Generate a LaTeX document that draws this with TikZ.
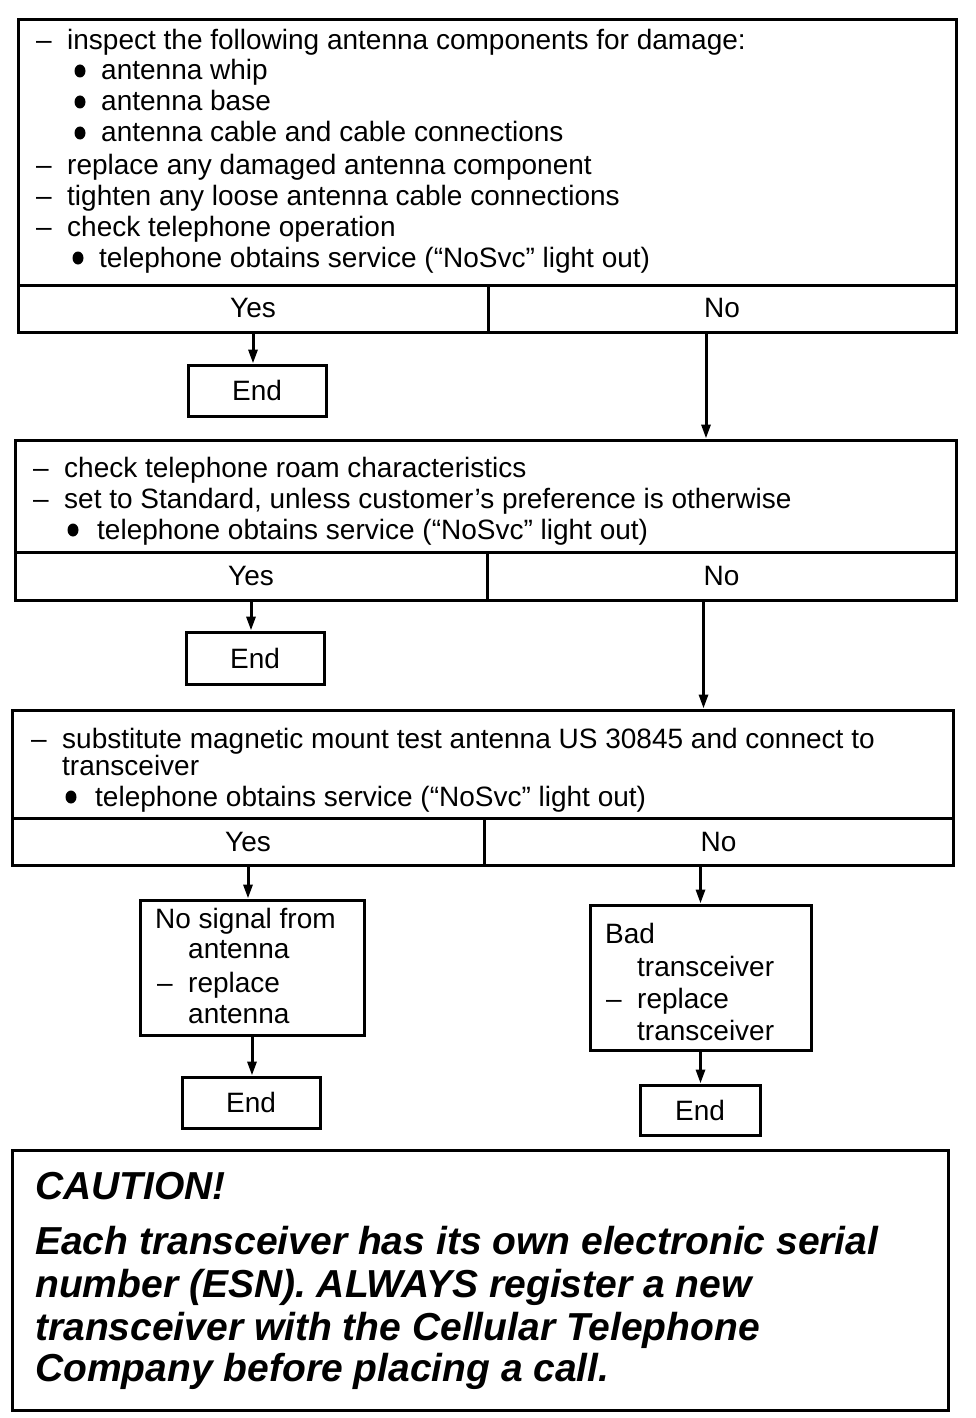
\documentclass[tikz,border=0pt]{standalone}
\usepackage{fontspec}
\setmainfont{Liberation Sans}
\usetikzlibrary{arrows.meta}
\tikzset{
  box/.style={draw, line width=3pt, inner sep=0pt},
  txt/.style={anchor=base west, inner sep=0pt, font=\fontsize{28}{31}\selectfont},
  ctxt/.style={inner sep=0pt, font=\fontsize{28}{31}\selectfont},
  arr/.style={line width=3pt, -{Triangle[length=14pt,width=9pt]}},
  caut/.style={anchor=base west, inner sep=0pt, font=\fontsize{39}{43}\selectfont\bfseries\itshape},
  blt/.style={fill=black},
}
\begin{document}
\begin{tikzpicture}[x=1pt,y=-1pt]
\fill[white] (0,0) rectangle (976,1418);
\useasboundingbox (0,0) rectangle (976,1418);

% ---------- block 1 ----------
\node[box, minimum width=938pt, minimum height=265pt] (q1) at (487,152.5) {};
\node[box, ctxt, minimum width=470pt, minimum height=47pt] (yes1) at (253,308.5) {Yes};
\node[box, ctxt, minimum width=468pt, minimum height=47pt] (no1) at (722,308.5) {No};
\node[box, ctxt, minimum width=138pt, minimum height=51pt] (end1) at (257,390.5) {End};

\node[txt] (d1a) at (36,50) {–};
\node[txt] (t1a) at (67,50) {inspect the following antenna components for damage:};
\fill[blt] (80,71) ellipse [x radius=5.5pt, y radius=6.5pt];
\node[txt] (t1b) at (101,80) {antenna whip};
\fill[blt] (80,102) ellipse [x radius=5.5pt, y radius=6.5pt];
\node[txt] (t1c) at (101,111) {antenna base};
\fill[blt] (80,133) ellipse [x radius=5.5pt, y radius=6.5pt];
\node[txt] (t1d) at (101,142) {antenna cable and cable connections};
\node[txt] (d1e) at (36,174) {–};
\node[txt] (t1e) at (67,174) {replace any damaged antenna component};
\node[txt] (d1f) at (36,205) {–};
\node[txt] (t1f) at (67,205) {tighten any loose antenna cable connections};
\node[txt] (d1g) at (36,236) {–};
\node[txt] (t1g) at (67,236) {check telephone operation};
\fill[blt] (78,258) ellipse [x radius=5.5pt, y radius=6.5pt];
\node[txt] (t1h) at (99,267) {telephone obtains service (“NoSvc” light out)};

% ---------- block 2 ----------
\node[box, minimum width=941pt, minimum height=112pt] (q2) at (485.5,496) {};
\node[box, ctxt, minimum width=472pt, minimum height=48pt] (yes2) at (251,576) {Yes};
\node[box, ctxt, minimum width=469pt, minimum height=48pt] (no2) at (721.5,576) {No};
\node[box, ctxt, minimum width=138pt, minimum height=52pt] (end2) at (255,658) {End};

\node[txt] (d2a) at (33,477) {–};
\node[txt] (t2a) at (64,477) {check telephone roam characteristics};
\node[txt] (d2b) at (33,508) {–};
\node[txt] (t2b) at (64,508) {set to Standard, unless customer’s preference is otherwise};
\fill[blt] (73,530) ellipse [x radius=5.5pt, y radius=6.5pt];
\node[txt] (t2c) at (97,539) {telephone obtains service (“NoSvc” light out)};

% ---------- block 3 ----------
\node[box, minimum width=941pt, minimum height=108pt] (q3) at (482.5,764) {};
\node[box, ctxt, minimum width=472pt, minimum height=47pt] (yes3) at (248,841.5) {Yes};
\node[box, ctxt, minimum width=469pt, minimum height=47pt] (no3) at (718.5,841.5) {No};

\node[txt] (d3a) at (31,748) {–};
\node[txt] (t3a) at (62,748) {substitute magnetic mount test antenna US 30845 and connect to};
\node[txt] (t3b) at (62,775) {transceiver};
\fill[blt] (71,797) ellipse [x radius=5.5pt, y radius=6.5pt];
\node[txt] (t3c) at (95,806) {telephone obtains service (“NoSvc” light out)};

% ---------- results ----------
\node[box, minimum width=224pt, minimum height=135pt] (r1) at (252,967.5) {};
\node[txt] (r1a) at (155,928) {No signal from};
\node[txt] (r1b) at (188,958) {antenna};
\node[txt] (r1c) at (157,992) {–};
\node[txt] (r1d) at (188,992) {replace};
\node[txt] (r1e) at (188,1023) {antenna};

\node[box, minimum width=221pt, minimum height=145pt] (r2) at (700.5,977.5) {};
\node[txt] (r2a) at (605,943) {Bad};
\node[txt] (r2b) at (637,976) {transceiver};
\node[txt] (r2c) at (606,1008) {–};
\node[txt] (r2d) at (637,1008) {replace};
\node[txt] (r2e) at (637,1040) {transceiver};

\node[box, ctxt, minimum width=138pt, minimum height=51pt] (end3) at (251,1102.5) {End};
\node[box, ctxt, minimum width=120pt, minimum height=50pt] (end4) at (700,1110) {End};

% ---------- caution ----------
\node[box, minimum width=936pt, minimum height=260pt] (caution) at (480,1280) {};
\node[caut] (c0) at (35,1199) {CAUTION!};
\node[caut] (c1) at (35,1254) {Each transceiver has its own electronic serial};
\node[caut] (c2) at (35,1297) {number (ESN). ALWAYS register a new};
\node[caut] (c3) at (35,1340) {transceiver with the Cellular Telephone};
\node[caut] (c4) at (35,1381) {Company before placing a call.};

% ---------- connectors ----------
\draw[arr] (yes1.south) -- (yes1.south |- end1.north);
\coordinate (n1) at ([xshift=-16pt]no1.south);
\draw[arr] (n1) -- (n1 |- q2.north);
\draw[arr] (yes2.south) -- (yes2.south |- end2.north);
\coordinate (n2) at ([xshift=-18pt]no2.south);
\draw[arr] (n2) -- (n2 |- q3.north);
\draw[arr] (yes3.south) -- (yes3.south |- r1.north);
\draw[arr] (r2.north |- no3.south) -- (r2.north);
\draw[arr] (r1.south) -- (r1.south |- end3.north);
\draw[arr] (r2.south) -- (r2.south |- end4.north);
\end{tikzpicture}
\end{document}
